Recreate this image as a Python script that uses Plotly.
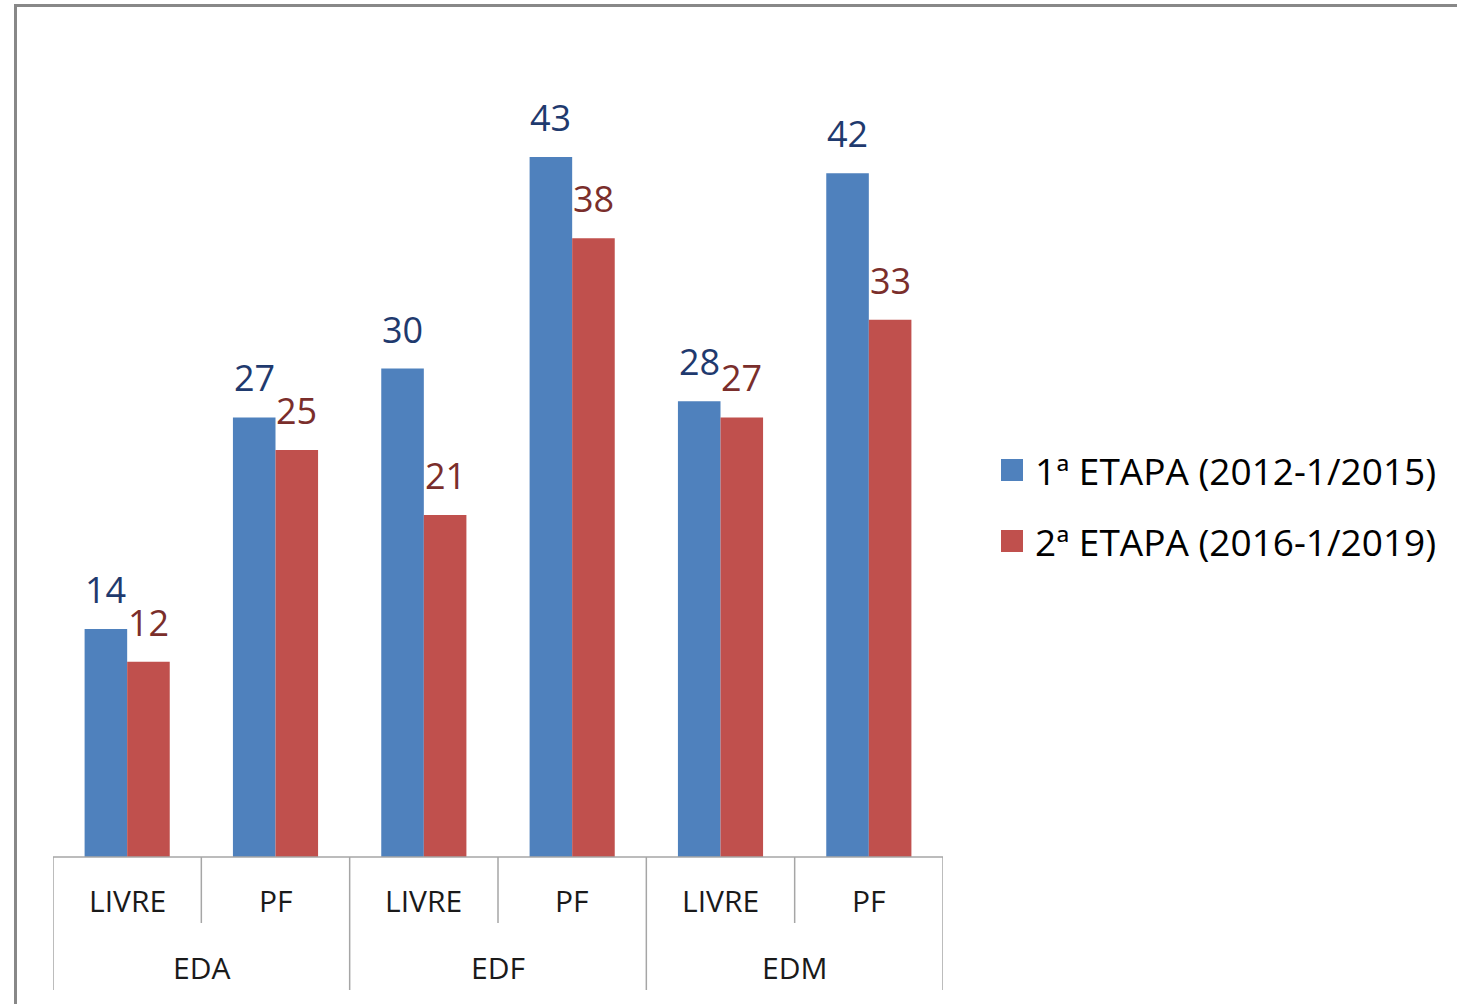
import plotly.graph_objects as go
import numpy as np

groups = ["EDA", "EDF", "EDM"]
subcats = ["LIVRE", "PF", "LIVRE", "PF", "LIVRE", "PF"]
group_of = ["EDA", "EDA", "EDF", "EDF", "EDM", "EDM"]
series_names = ["1ª ETAPA (2012-1/2015)", "2ª ETAPA (2016-1/2019)"]
etapa1 = [14, 27, 30, 43, 28, 42]
etapa2 = [12, 25, 21, 38, 27, 33]

bar_colors = ["#4F81BD", "#C0504D"]
label_colors = ["#1F3A6E", "#7A2E2B"]
FONT = "Open Sans"

W, H = 1457, 1004
ML, MR, MT, MB = 53, 514, 43, 147
PW, PH = W - ML - MR, H - MT - MB

def px_x(px):
    return (px - ML) / PW

def px_y(py):
    return (H - MB - py) / PH

bargap = 0.426
xs = np.arange(len(subcats))

fig = go.Figure()
for vals, name, col in zip([etapa1, etapa2], series_names, bar_colors):
    fig.add_trace(go.Bar(x=xs, y=vals, name=name, marker=dict(color=col, line=dict(width=0)),
                         showlegend=False))

half = (1 - bargap) / 4
annotations = []
for k, (vals, lc) in enumerate(zip([etapa1, etapa2], label_colors)):
    off = -half if k == 0 else half
    for i, v in enumerate(vals):
        annotations.append(dict(x=i + off, y=v, xref="x", yref="y", text=str(v), showarrow=False,
                                yanchor="bottom", yshift=13, font=dict(family=FONT, size=36, color=lc)))

# category axis labels
line_col = "#A6A6A6"
shapes = []
for i, s in enumerate(subcats):
    annotations.append(dict(x=i, y=px_y(901), xref="x", yref="paper", text=s, showarrow=False,
                            yanchor="middle", font=dict(family=FONT, size=30, color="#1a1a1a")))
for g_i, g in enumerate(groups):
    idx = [i for i, gg in enumerate(group_of) if gg == g]
    cx = (idx[0] + idx[-1]) / 2
    annotations.append(dict(x=cx, y=px_y(967), xref="x", yref="paper", text=g, showarrow=False,
                            yanchor="middle", font=dict(family=FONT, size=30, color="#1a1a1a")))

# axis baseline
shapes.append(dict(type="line", xref="x", yref="paper", x0=-0.5, x1=len(subcats) - 0.5, y0=0, y1=0,
                   line=dict(color=line_col, width=1.5)))
# dividers
for i in range(len(subcats) + 1):
    b = i - 0.5
    if i == 0 or i == len(subcats) or group_of[i] != group_of[i - 1]:
        ybot = px_y(990)
    else:
        ybot = px_y(923)
    shapes.append(dict(type="line", xref="x", yref="paper", x0=b, x1=b, y0=0, y1=ybot,
                       line=dict(color=line_col, width=1.5)))

# chart border (left and top visible)
border = "#888888"
shapes.append(dict(type="line", xref="paper", yref="paper", x0=px_x(15.5), x1=px_x(15.5),
                   y0=px_y(H), y1=px_y(5.5), line=dict(color=border, width=3)))
shapes.append(dict(type="line", xref="paper", yref="paper", x0=px_x(14), x1=px_x(W),
                   y0=px_y(5.5), y1=px_y(5.5), line=dict(color=border, width=3)))

# legend (manual)
leg_rows = [470, 541]
for name, col, ry in zip(series_names, bar_colors, leg_rows):
    shapes.append(dict(type="rect", xref="paper", yref="paper", x0=px_x(1001), x1=px_x(1023),
                       y0=px_y(ry + 11), y1=px_y(ry - 11), fillcolor=col, line=dict(width=0)))
    annotations.append(dict(x=px_x(1033), y=px_y(ry), xref="paper", yref="paper", text=name,
                            showarrow=False, xanchor="left", yanchor="middle",
                            font=dict(family=FONT, size=37, color="#000000")))

fig.update_layout(
    width=W, height=H,
    margin=dict(l=ML, r=MR, t=MT, b=MB, pad=0),
    paper_bgcolor="white", plot_bgcolor="white",
    barmode="group", bargap=bargap, bargroupgap=0,
    xaxis=dict(range=[-0.5, len(subcats) - 0.5], showticklabels=False, showgrid=False,
               zeroline=False, showline=False, ticks=""),
    yaxis=dict(range=[0, 50], showticklabels=False, showgrid=False, zeroline=False,
               showline=False, ticks=""),
    annotations=annotations, shapes=shapes, showlegend=False,
)

fig.write_html("out.html", config={"displayModeBar": False},
               post_script="document.body.style.margin='0';document.body.style.overflow='hidden';")
